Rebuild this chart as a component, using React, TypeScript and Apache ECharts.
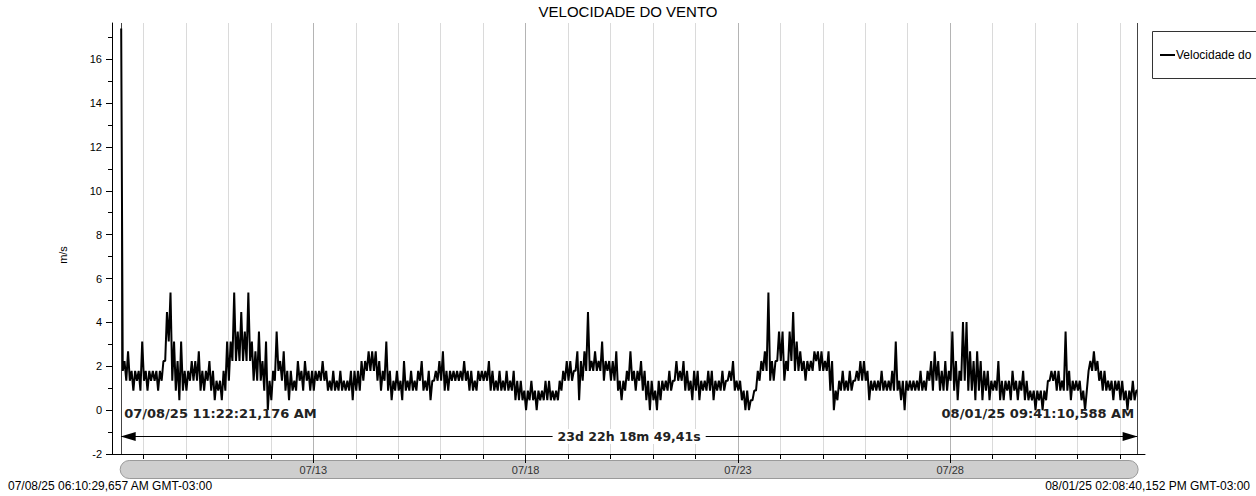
import React, { useEffect, useRef } from "react";
import * as echarts from "echarts";

const HOUR = 3600000;
const DAY = 24 * HOUR;
// Local time (GMT-03:00) is stored as if it were UTC so the axis is timezone-independent.
const T = (m: number, d: number, h = 0, mi = 0, s = 0, ms = 0) => Date.UTC(2025, m - 1, d, h, mi, s, ms);

const axisStart = T(7, 8, 6, 10, 29, 657);
const axisEnd = T(8, 1, 14, 8, 40, 152);
const dataStart = T(7, 8, 11, 22, 21, 176);
const dataEnd = T(8, 1, 9, 41, 10, 588);
const startSpike = 17.4;
const endValue = 0.89;

const titleText = "VELOCIDADE DO VENTO";
const yName = "m/s";
const legendName = "Velocidade do";
const startLabel = "07/08/25 11:22:21,176 AM";
const endLabel = "08/01/25 09:41:10,588 AM";
const durationLabel = "23d 22h 18m 49,41s";
const axisStartLabel = "07/08/25 06:10:29,657 AM GMT-03:00";
const axisEndLabel = "08/01/25 02:08:40,152 PM GMT-03:00";
const labeledDays = ["07/13", "07/18", "07/23", "07/28"];
const yTickValues = [-2, 0, 2, 4, 6, 8, 10, 12, 14, 16];
const yMinorValues = [-1, 1, 3, 5, 7, 9, 11, 13, 15, 17];
const yMin = -2;
const yMax = 17.65;
const arrowLevel = -1.2;
const stampLevel = -0.15;

// Two-hour buckets: [low, high] pairs in m/s.
const jul08 = [1.79, 2.24, 1.34, 2.68, 1.34, 1.79, 0.89, 1.79, 1.34, 1.79, 0.89, 3.13];
const jul09 = [1.34, 1.79, 0.89, 1.79, 1.34, 1.79, 1.34, 1.79, 0.89, 1.79, 1.34, 2.24, 2.24, 4.47, 3.13, 5.36, 1.34, 3.13, 0.89, 2.24, 0.45, 3.13, 0.89, 1.79];
const jul10 = [0.89, 1.79, 1.34, 2.24, 1.34, 2.24, 1.34, 2.68, 0.89, 1.79, 0.89, 1.79, 1.34, 2.24, 0.89, 1.79, 0.45, 1.34, 0.89, 1.34, 0.45, 1.79, 0.89, 3.13];
const jul11 = [1.34, 3.13, 2.24, 5.36, 2.24, 3.58, 2.24, 4.47, 2.24, 3.58, 2.24, 5.36, 2.24, 3.13, 1.34, 2.68, 1.34, 3.58, 1.34, 2.24, 0.89, 3.13, 0.0, 1.34];
const jul12 = [0.45, 1.79, 1.34, 3.58, 1.79, 2.24, 1.34, 2.68, 0.89, 1.79, 0.45, 1.79, 0.89, 1.34, 0.89, 2.24, 1.34, 1.79, 0.89, 2.24, 1.34, 1.79, 0.89, 1.79];
const jul13 = [0.89, 1.79, 1.34, 1.79, 1.34, 2.24, 1.34, 1.79, 0.89, 1.34, 0.89, 1.79, 0.89, 1.34, 0.89, 1.79, 0.89, 1.34, 0.89, 1.34, 0.89, 1.79, 0.45, 1.79];
const jul14 = [0.89, 1.79, 0.89, 2.24, 1.34, 2.24, 1.79, 2.68, 1.79, 2.68, 1.79, 2.68, 1.34, 2.24, 0.89, 1.79, 1.34, 3.13, 0.89, 1.79, 0.45, 1.34, 0.89, 1.79];
const jul15 = [0.89, 1.34, 0.45, 2.24, 0.89, 1.34, 0.89, 1.79, 0.89, 1.34, 0.89, 1.79, 1.34, 2.24, 0.89, 1.34, 0.89, 1.79, 0.45, 1.34, 1.34, 1.79, 1.34, 2.24];
const jul16 = [1.34, 2.68, 0.89, 1.79, 0.89, 1.79, 1.34, 1.79, 1.34, 1.79, 1.34, 1.79, 1.34, 2.24, 1.34, 1.79, 0.89, 1.79, 0.89, 1.34, 0.89, 1.79, 1.34, 1.79];
const jul17 = [1.34, 1.79, 1.34, 2.24, 0.89, 1.79, 0.89, 1.34, 0.89, 1.79, 0.89, 1.34, 0.89, 1.79, 0.89, 1.34, 0.89, 1.79, 0.45, 1.34, 0.45, 1.34, 0.45, 0.89];
const jul18 = [0.0, 0.89, 0.45, 1.34, 0.45, 0.89, 0.0, 0.89, 0.45, 0.89, 0.45, 1.34, 0.45, 1.34, 0.45, 0.89, 0.45, 0.89, 0.45, 1.34, 0.89, 1.79, 1.34, 2.24];
const jul19 = [1.34, 2.24, 1.34, 1.79, 1.79, 2.68, 0.45, 2.24, 1.34, 2.68, 1.79, 4.47, 1.79, 2.24, 1.79, 2.68, 1.79, 2.24, 1.79, 3.13, 1.34, 2.24, 1.79, 2.24];
const jul20 = [1.34, 2.24, 1.34, 2.68, 0.89, 1.34, 0.45, 1.34, 0.89, 1.79, 1.34, 2.68, 1.34, 1.79, 0.89, 1.79, 1.34, 2.24, 0.89, 1.79, 0.45, 1.34, 0.0, 1.34];
const jul21 = [0.45, 0.89, 0.0, 1.34, 0.45, 1.34, 0.89, 1.34, 0.89, 1.79, 0.89, 1.34, 1.34, 2.24, 1.34, 1.79, 1.34, 2.24, 0.89, 1.79, 0.89, 1.34, 0.45, 1.79];
const jul22 = [0.89, 1.79, 0.45, 1.34, 0.89, 1.34, 0.89, 1.79, 0.89, 1.79, 0.45, 1.34, 0.89, 1.34, 0.89, 1.79, 0.89, 1.34, 1.34, 1.79, 1.34, 2.24, 0.89, 1.34];
const jul23 = [0.89, 1.34, 0.45, 0.89, 0.0, 0.89, 0.0, 0.45, 0.45, 0.89, 0.89, 1.79, 1.34, 2.24, 1.79, 2.68, 1.79, 5.36, 1.34, 2.24, 1.34, 2.24, 2.24, 3.58];
const jul24 = [2.24, 3.58, 1.34, 2.24, 1.79, 3.58, 2.24, 4.47, 1.79, 3.13, 1.79, 2.68, 1.79, 2.24, 1.34, 2.24, 1.79, 2.24, 1.79, 2.68, 2.24, 2.68, 1.79, 2.68];
const jul25 = [1.79, 2.24, 1.79, 2.68, 0.89, 2.24, 0.0, 0.89, 0.45, 1.34, 0.89, 1.79, 0.89, 1.34, 0.89, 1.79, 0.89, 1.34, 1.34, 1.79, 1.34, 2.24, 1.34, 2.24];
const jul26 = [1.34, 1.79, 0.45, 1.34, 0.89, 1.34, 0.89, 1.34, 0.89, 1.79, 0.89, 1.34, 0.89, 1.34, 0.89, 1.79, 0.89, 3.13, 0.89, 1.34, 0.45, 1.34, 0.0, 1.34];
const jul27 = [0.89, 1.34, 0.89, 1.34, 0.89, 1.34, 0.89, 1.79, 0.89, 1.34, 0.89, 1.79, 1.34, 2.24, 0.89, 2.68, 1.34, 2.24, 0.89, 1.79, 0.89, 2.24, 0.89, 1.79];
const jul28 = [1.34, 3.58, 0.89, 2.24, 0.45, 1.79, 1.34, 4.02, 1.34, 4.02, 0.89, 2.68, 0.89, 2.24, 0.45, 2.68, 0.89, 2.24, 0.45, 1.79, 0.89, 1.79, 0.45, 1.34];
const jul29 = [0.89, 1.34, 0.89, 2.24, 0.45, 1.34, 0.45, 1.34, 0.89, 1.34, 0.45, 1.79, 0.89, 1.34, 0.45, 1.34, 0.89, 1.79, 0.45, 1.34, 0.45, 0.89, 0.45, 0.89];
const jul30 = [0.0, 0.89, 0.45, 0.89, 0.0, 0.89, 0.45, 1.34, 1.34, 1.79, 1.34, 1.79, 0.89, 1.79, 0.89, 1.34, 0.89, 3.58, 0.89, 1.79, 0.45, 1.34, 0.89, 1.34];
const jul31 = [0.89, 1.34, 0.45, 0.89, 0.0, 0.89, 1.79, 2.24, 1.79, 2.68, 1.79, 2.24, 1.34, 1.79, 0.89, 1.79, 0.89, 1.34, 0.89, 1.34, 0.45, 1.34, 0.89, 1.34];
const aug01 = [0.45, 1.34, 0.45, 0.89, 0.0, 0.89, 0.45, 1.34, 0.45, 0.89];

const days: [number, number[]][] = [
  [T(7, 8, 12), jul08], [T(7, 9), jul09], [T(7, 10), jul10], [T(7, 11), jul11],
  [T(7, 12), jul12], [T(7, 13), jul13], [T(7, 14), jul14], [T(7, 15), jul15],
  [T(7, 16), jul16], [T(7, 17), jul17], [T(7, 18), jul18], [T(7, 19), jul19],
  [T(7, 20), jul20], [T(7, 21), jul21], [T(7, 22), jul22], [T(7, 23), jul23],
  [T(7, 24), jul24], [T(7, 25), jul25], [T(7, 26), jul26], [T(7, 27), jul27],
  [T(7, 28), jul28], [T(7, 29), jul29], [T(7, 30), jul30], [T(7, 31), jul31],
  [T(8, 1), aug01],
];

const seriesData: [number, number][] = [[dataStart, startSpike]];
for (const [start, vals] of days) {
  for (let i = 0; i < vals.length; i += 2) {
    const t = start + (i / 2) * 2 * HOUR;
    seriesData.push([t + HOUR * 0.25, vals[i]]);
    seriesData.push([t + HOUR * 1.25, vals[i + 1]]);
  }
}
seriesData.push([dataEnd, endValue]);

const dayTicks: number[] = [];
for (let t = T(7, 9); t <= axisEnd; t += DAY) dayTicks.push(t);
const labeledTicks = labeledDays.map((s) => {
  const [m, d] = s.split("/").map(Number);
  return T(m, d);
});

const pad2 = (n: number) => (n < 10 ? "0" + n : "" + n);
const fmtDay = (v: number) => {
  const d = new Date(v);
  return pad2(d.getUTCMonth() + 1) + "/" + pad2(d.getUTCDate());
};

const SANS = "Liberation Sans, Arial, sans-serif";
const BOLD = "DejaVu Sans, Verdana, sans-serif";

export default function App() {
  const ref = useRef<HTMLDivElement>(null);
  useEffect(() => {
    if (!ref.current) return;
    const chart = echarts.init(ref.current, undefined, { renderer: "svg" });
    const option: any = {
      animation: false,
      backgroundColor: "#fff",
      title: {
        text: titleText,
        left: "center",
        top: 4,
        padding: 0,
        textStyle: { fontFamily: SANS, fontSize: 15, fontWeight: "normal", color: "#000" },
      },
      grid: { left: 112, right: 111, top: 23, bottom: 42, containLabel: false },
      xAxis: [
        {
          type: "value",
          min: axisStart,
          max: axisEnd,
          position: "bottom",
          axisLine: { show: true, onZero: false, lineStyle: { color: "#000", width: 1 } },
          axisTick: { show: true, customValues: dayTicks, length: 5, lineStyle: { color: "#000" } },
          axisLabel: { show: false },
          splitLine: { show: false },
        },
        {
          type: "value",
          min: axisStart,
          max: axisEnd,
          position: "bottom",
          z: 10,
          axisLine: { show: false, onZero: false },
          axisTick: { show: true, customValues: labeledTicks, length: 9, lineStyle: { color: "#000" } },
          axisLabel: {
            show: true,
            customValues: labeledTicks,
            formatter: (v: number) => fmtDay(v),
            margin: 10,
            fontSize: 11,
            fontFamily: SANS,
            color: "#333",
          },
          splitLine: { show: false },
        },
      ],
      yAxis: [
        {
          type: "value",
          min: yMin,
          max: yMax,
          position: "left",
          axisLine: { show: true, onZero: false, lineStyle: { color: "#000" } },
          axisTick: { show: true, customValues: yTickValues, length: 6, lineStyle: { color: "#000" } },
          axisLabel: { customValues: yTickValues, fontSize: 11, fontFamily: SANS, color: "#000", margin: 10 },
          splitLine: { show: false },
        },
        {
          type: "value",
          min: yMin,
          max: yMax,
          position: "left",
          axisLine: { show: false, onZero: false },
          axisTick: { show: true, customValues: yMinorValues, length: 4, lineStyle: { color: "#000" } },
          axisLabel: { show: false },
          splitLine: { show: false },
        },
      ],
      series: [
        {
          name: "Velocidade do Vento",
          type: "line",
          xAxisIndex: 0,
          yAxisIndex: 0,
          data: seriesData,
          symbol: "none",
          showSymbol: false,
          z: 3,
          lineStyle: { color: "#000", width: 2 },
          markLine: {
            silent: true,
            z: 1,
            symbol: ["none", "none"],
            symbolSize: [9, 15],
            symbolOffset: [[0, 7], [0, 7]],
            label: { show: false },
            data: [
              ...dayTicks.map((t) => ({
                xAxis: t,
                lineStyle: {
                  color: labeledTicks.includes(t) ? "#b4b4b4" : "#dadada",
                  width: 1,
                  type: "solid",
                },
              })),
              { xAxis: dataStart, lineStyle: { color: "#444", width: 1, type: "solid" } },
              { xAxis: dataEnd, lineStyle: { color: "#444", width: 1, type: "solid" } },
              [
                { coord: [dataStart, arrowLevel], symbol: "triangle" },
                { coord: [dataEnd, arrowLevel], symbol: "triangle", lineStyle: { color: "#000", width: 1, type: "solid" } },
              ],
            ],
          },
        },
      ],
    };
    chart.setOption(option);

    const xS = chart.convertToPixel({ xAxisIndex: 0 }, dataStart) as number;
    const xE = chart.convertToPixel({ xAxisIndex: 0 }, dataEnd) as number;
    const yArrow = chart.convertToPixel({ yAxisIndex: 0 }, arrowLevel) as number;
    const yStamp = chart.convertToPixel({ yAxisIndex: 0 }, stampLevel) as number;
    const yAxisBase = chart.convertToPixel({ yAxisIndex: 0 }, yMin) as number;

    chart.setOption({
      graphic: [
        {
          type: "rect",
          z: 0,
          shape: { x: xS - 1, y: yAxisBase + 6.5, width: xE - xS + 2, height: 18, r: 9 },
          style: { fill: "#cecece", stroke: "#9a9a9a", lineWidth: 1 },
        },
        {
          type: "text",
          x: xS + 3,
          y: yStamp,
          z: 10,
          style: {
            text: startLabel,
            font: "bold 13px " + BOLD,
            fill: "#222",
            textAlign: "left",
            textVerticalAlign: "middle",
          },
        },
        {
          type: "text",
          x: xE - 3,
          y: yStamp,
          z: 10,
          style: {
            text: endLabel,
            font: "bold 13px " + BOLD,
            fill: "#222",
            textAlign: "right",
            textVerticalAlign: "middle",
          },
        },
        {
          type: "text",
          x: (xS + xE) / 2,
          y: yArrow,
          z: 10,
          style: {
            text: durationLabel,
            font: "bold 12.5px " + BOLD,
            fill: "#222",
            textAlign: "center",
            textVerticalAlign: "middle",
            backgroundColor: "#fff",
            padding: [1, 5],
          },
        },
        {
          type: "text",
          x: 63,
          y: 255,
          rotation: Math.PI / 2,
          style: {
            text: yName,
            font: "11px " + SANS,
            fill: "#000",
            textAlign: "center",
            textVerticalAlign: "middle",
          },
        },
        {
          type: "text",
          left: 8,
          top: 480,
          style: { text: axisStartLabel, font: "12px " + SANS, fill: "#000" },
        },
        {
          type: "text",
          right: 6,
          top: 480,
          style: { text: axisEndLabel, font: "12px " + SANS, fill: "#000" },
        },
        {
          type: "rect",
          shape: { x: 1152.5, y: 31.5, width: 130, height: 47 },
          style: { fill: "#fff", stroke: "#333", lineWidth: 1 },
        },
        {
          type: "line",
          shape: { x1: 1160, y1: 55, x2: 1175, y2: 55 },
          style: { stroke: "#000", lineWidth: 2 },
        },
        {
          type: "text",
          x: 1176,
          y: 55,
          style: {
            text: legendName,
            font: "12px " + SANS,
            fill: "#000",
            textAlign: "left",
            textVerticalAlign: "middle",
          },
        },
      ],
    });

    return () => chart.dispose();
  }, []);
  return (
    <div style={{ position: "fixed", left: 0, top: 0, width: 1256, height: 496, background: "#fff" }}>
      <div ref={ref} style={{ width: 1256, height: 496 }} />
    </div>
  );
}
